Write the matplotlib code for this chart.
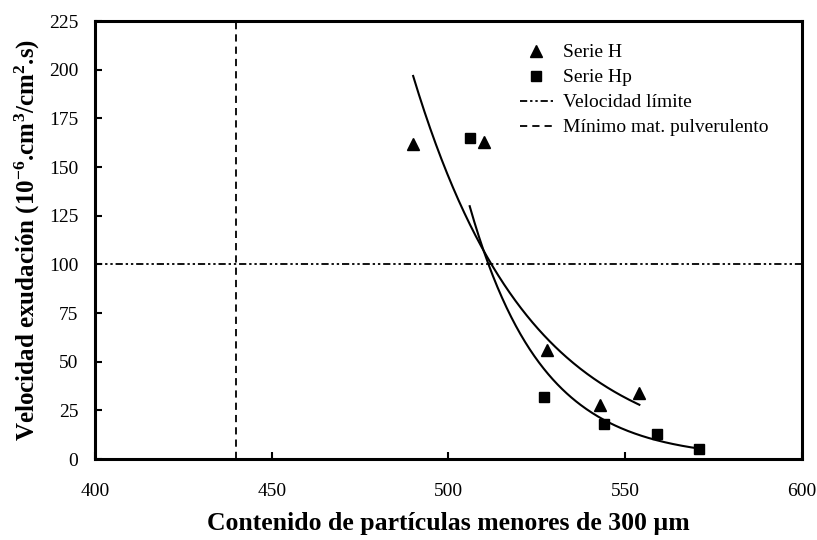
import numpy as np
import matplotlib
matplotlib.use('Agg')
import matplotlib.pyplot as plt

plt.rcParams['font.family'] = ['Liberation Serif', 'DejaVu Serif']
plt.rcParams['mathtext.fontset'] = 'custom'
plt.rcParams['mathtext.rm'] = 'Liberation Serif'
plt.rcParams['mathtext.bf'] = 'Liberation Serif:bold'
plt.rcParams['mathtext.default'] = 'bf'

# Serie H (triángulos)
xH = [490, 510, 528, 543, 554]
yH = [162, 163, 56, 28, 34]
# Serie Hp (cuadrados)
xHp = [506, 527, 544, 559, 571]
yHp = [165, 32, 18, 13, 5]

vel_limite = 100
min_pulverulento = 440


def ajuste_exp(x, y):
    '''curva de tendencia exponencial y = a*exp(b*x)'''
    b, ln_a = np.polyfit(x, np.log(y), 1)
    xs = np.linspace(min(x), max(x), 200)
    return xs, np.exp(ln_a) * np.exp(b * xs)


fig = plt.figure(figsize=(8.17, 5.40), dpi=100)
ax = fig.add_axes([0.1163, 0.15, 0.8653, 0.811])

ax.plot(xH, yH, ls='none', marker='^', ms=8, color='black', label='Serie H')
ax.plot(xHp, yHp, ls='none', marker='s', ms=7, color='black', label='Serie Hp')
ax.axhline(vel_limite, color='black', lw=1.3, ls=(0, (4, 1.6, 1.3, 1.6, 1.3, 1.6)),
           label='Velocidad límite')
ax.axvline(min_pulverulento, color='black', lw=1.3, ls=(0, (4, 2.8)),
           label='Mínimo mat. pulverulento')

xs, ys = ajuste_exp(xH, yH)
ax.plot(xs, ys, color='black', lw=1.5)
xs, ys = ajuste_exp(xHp, yHp)
ax.plot(xs, ys, color='black', lw=1.5)

ax.set_xlim(400, 600)
ax.set_ylim(0, 225)
ax.set_xticks([400, 450, 500, 550, 600])
ax.set_yticks(range(0, 226, 25))
ax.tick_params(direction='in', length=5, width=1.5, labelsize=14,
               top=False, right=False)
ax.tick_params(axis='x', pad=17)
ax.tick_params(axis='y', pad=12)
for s in ax.spines.values():
    s.set_linewidth(2.2)

ax.set_xlabel('Contenido de partículas menores de 300 µm', fontsize=18.5,
              fontweight='bold', labelpad=9)
ax.set_ylabel('Velocidad exudación (10$^{-6}$.cm$^{3}$/cm$^{2}$.s)', fontsize=18,
              fontweight='bold', labelpad=5)

ax.legend(loc='upper left', bbox_to_anchor=(0.601, 0.948), frameon=False,
          fontsize=14, handlelength=1.7, handletextpad=0.5, labelspacing=0.38,
          borderaxespad=0, borderpad=0)

fig.savefig('out.png', dpi=100)
